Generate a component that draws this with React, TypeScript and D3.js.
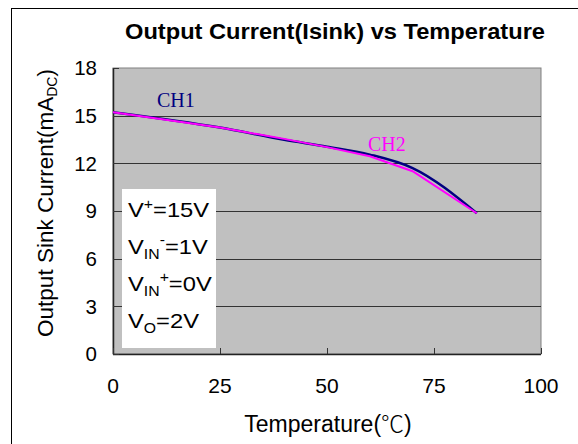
import * as d3 from 'd3';

// temperature (°C) and sink current (mA DC)
const temps = [0, 25, 40, 50, 60, 70, 85];
const ch1 = [15.22, 14.25, 13.48, 13.05, 12.55, 11.7, 8.86];
const ch2 = [15.22, 14.25, 13.54, 13.02, 12.45, 11.5, 8.86];
const xTicks = [0, 25, 50, 75, 100];
const yTicks = [0, 3, 6, 9, 12, 15, 18];

const W = 578;
const H = 444;
const m = { l: 113, r: 541, t: 68, b: 354 };
const sans = 'Arial, "Liberation Sans", sans-serif';
const serif = '"Times New Roman", "Liberation Serif", serif';

export default function App() {
  const x = d3.scaleLinear().domain([0, 100]).range([m.l, m.r]);
  const y = d3.scaleLinear().domain([0, 18]).range([m.b, m.t]);

  const line1 = d3.line<number>()
    .x((_, i) => x(temps[i]))
    .y(d => y(d))
    .curve(d3.curveMonotoneX);
  const line2 = d3.line<number>()
    .x((_, i) => x(temps[i]))
    .y(d => y(d));

  const legendLines = [
    { sub: '', sup: '+', rest: '=15V' },
    { sub: 'IN', sup: '-', rest: '=1V' },
    { sub: 'IN', sup: '+', rest: '=0V' },
    { sub: 'O', sup: '', rest: '=2V' },
  ];

  return (
    <svg width={W} height={H} style={{ position: 'absolute', left: 0, top: 0, background: '#fff' }}
      fontFamily={sans}>
      {/* outer frame */}
      <rect x={11.5} y={8.5} width={700} height={600} fill="none" stroke="#000" strokeWidth={1} />

      <text x={125} y={39} fontSize={21.5} fontWeight="bold" textLength={420} lengthAdjust="spacingAndGlyphs">
        Output Current(Isink) vs Temperature
      </text>

      {/* plot area */}
      <rect x={m.l} y={m.t} width={m.r - m.l} height={m.b - m.t} fill="#c0c0c0" stroke="#808080" strokeWidth={1} />

      {/* gridlines */}
      {yTicks.filter(t => t > 0 && t < 18).map(t => (
        <line key={'g' + t} x1={m.l} x2={m.r} y1={Math.round(y(t)) + 0.5} y2={Math.round(y(t)) + 0.5}
          stroke="#333" strokeWidth={1} />
      ))}

      {/* axes */}
      <line x1={m.l + 0.5} x2={m.l + 0.5} y1={m.t} y2={m.b} stroke="#222" strokeWidth={1.5} />
      <line x1={m.l} x2={m.r} y1={m.b + 0.5} y2={m.b + 0.5} stroke="#222" strokeWidth={1.5} />
      {yTicks.map(t => (
        <g key={'y' + t}>
          <line x1={m.l} x2={m.l + 6} y1={Math.round(y(t)) + 0.5} y2={Math.round(y(t)) + 0.5} stroke="#333" />
          <text x={97} y={y(t)} dy="0.36em" textAnchor="end" fontSize={20.5}>{t}</text>
        </g>
      ))}
      {xTicks.map(t => (
        <g key={'x' + t}>
          <line x1={Math.round(x(t)) + 0.5} x2={Math.round(x(t)) + 0.5} y1={m.b} y2={m.b - 6} stroke="#333" />
          <text x={x(t)} y={393} textAnchor="middle" fontSize={21}>{t}</text>
        </g>
      ))}

      {/* series */}
      <path d={line1(ch1) || ''} fill="none" stroke="#000080" strokeWidth={2.5} />
      <path d={line2(ch2) || ''} fill="none" stroke="#ff00ff" strokeWidth={2} />

      <text x={157} y={107} fontFamily={serif} fontSize={20} fill="#000080">CH1</text>
      <text x={368} y={151} fontFamily={serif} fontSize={20} fill="#ff00ff">CH2</text>

      {/* conditions box */}
      <rect x={122} y={189} width={94} height={159} fill="#fff" />
      {legendLines.map((d, i) => (
        <g key={i} transform={`translate(128,${217 + i * 37}) scale(1.13,1)`}>
          <text x={0} y={0} fontSize={21}>
            V
            {d.sub && <tspan fontSize={14} dy={5}>{d.sub}</tspan>}
            {d.sup && <tspan fontSize={14} dy={d.sub ? -14 : -8}>{d.sup}</tspan>}
            <tspan dy={d.sub && d.sup ? 9 : d.sub ? -5 : d.sup ? 8 : 0}>{d.rest}</tspan>
          </text>
        </g>
      ))}

      <text transform="translate(53,203) rotate(-90)" textAnchor="middle" fontSize={22.5}>
        Output Sink Current(mA<tspan fontSize={14} dy={4}>DC</tspan><tspan dy={-4}>)</tspan>
      </text>

      <text x={328} y={432} textAnchor="middle" fontSize={23}>
        Temperature(<tspan fontFamily='"Noto Sans CJK SC", sans-serif' fontWeight={300}>℃</tspan>)
      </text>
    </svg>
  );
}
